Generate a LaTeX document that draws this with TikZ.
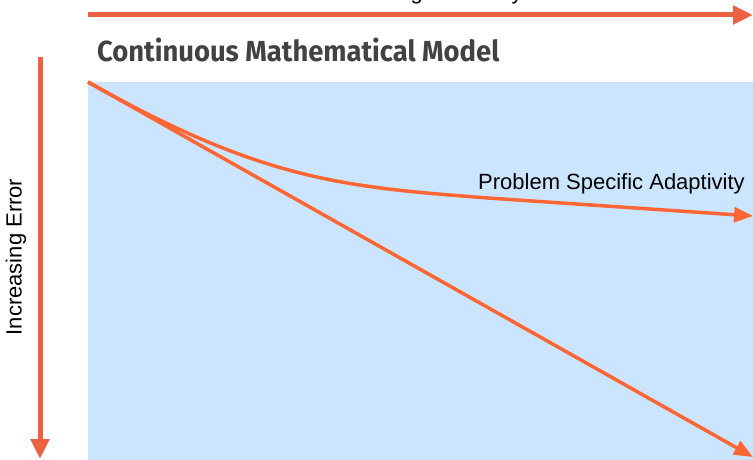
\documentclass[tikz,border=0pt]{standalone}
\usepackage{fontspec}
\setmainfont{Liberation Sans}
\newfontfamily\titlefont[FakeStretch=0.945]{Fira Sans}
\usetikzlibrary{arrows.meta}
\definecolor{axisorange}{HTML}{EA6241}
\definecolor{lineorange}{HTML}{FF6633}
\definecolor{panelblue}{HTML}{CCE5FF}
\definecolor{titlegray}{HTML}{424242}
\tikzset{
  axisarrow/.style={draw=axisorange, line width=5pt, -{Triangle[length=20pt,width=18pt]}},
  curvearrow/.style={draw=lineorange, line width=3.5pt, -{Triangle[length=19pt,width=15pt]}},
  lbl/.style={font=\fontsize{22}{26}\selectfont, text=black, inner sep=0pt},
}
\begin{document}
\begin{tikzpicture}[x=1pt,y=-1pt]
\useasboundingbox (0,0) rectangle (753,460);
% panel
\fill[panelblue] (88,82) rectangle (753,460);
% axes
\coordinate (xs) at (88,15);
\coordinate (xe) at (753,15);
\coordinate (ys) at (40,57);
\coordinate (ye) at (40,459);
\draw[axisarrow] (xs) -- (xe);
\draw[axisarrow] (ys) -- (ye);
\node[lbl, anchor=base] (xlabel) at (422,-0.8) {Increasing Efficiency};
\node[lbl, rotate=90, anchor=center] (ylabel) at (16,257) {Increasing Error};
% title
\node[anchor=base west, inner sep=0pt, text=titlegray, font=\titlefont\bfseries\fontsize{29}{32}\selectfont] (title) at (97,61.5) {Continuous Mathematical Model};
% lines
\coordinate (o) at (88,82);
\coordinate (e1) at (753,457);
\coordinate (m2) at (488,198);
\coordinate (e2) at (753,216);
\draw[curvearrow] (o) -- (e1);
\draw[curvearrow] (o) .. controls (263,181) and (345,187) .. (m2) -- (e2);
\node[lbl, anchor=base west] (adapt) at (478,189) {Problem Specific Adaptivity};
\end{tikzpicture}
\end{document}
